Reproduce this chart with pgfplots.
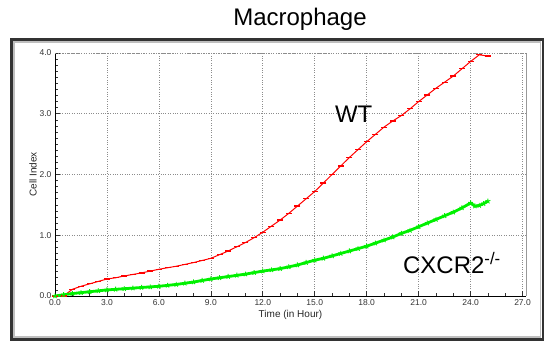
\documentclass[border=0pt]{standalone}
\usepackage{pgfplots}
\pgfplotsset{compat=1.18}
\usepackage{fontspec}
\setmainfont{Liberation Sans}
\definecolor{wtred}{RGB}{255,0,0}
\definecolor{kogreen}{RGB}{0,240,0}
\begin{document}
\begin{tikzpicture}
\path[use as bounding box] (0pt,0pt) rectangle (547pt,343pt);
\draw[black!80, line width=2.2pt] (11.5pt,3.5pt) rectangle (543pt,303.5pt);
\draw[black!25, line width=1.5pt] (14pt,6pt) rectangle (540.5pt,301pt);
\node[font=\fontsize{24}{28}\selectfont] at (300pt,324pt) {Macrophage};
\begin{axis}[
  at={(55pt,47pt)}, anchor=south west,
  width=471pt, height=243pt, scale only axis,
  xmin=0, xmax=27.2, ymin=0, ymax=4.0,
  axis x line=bottom, axis y line=left,
  axis line style={-, black, line width=0.8pt},
  xtick={0,3,...,27}, ytick={0,1,2,3,4},
  minor x tick num=2, minor y tick num=9,
  tick align=inside,
  major tick length=5pt, minor tick length=3pt,
  tick style={black!80, line width=0.6pt},
  grid=major,
  major grid style={black!45, dotted, line width=0.6pt},
  /pgf/number format/assume math mode=true,
  /pgf/number format/fixed, /pgf/number format/fixed zerofill, /pgf/number format/precision=1,
  ticklabel style={font=\fontsize{8.5}{9}\selectfont, text=black!80},
  xlabel={Time (in Hour)}, ylabel={Cell Index},
  label style={font=\fontsize{10}{12}\selectfont, text=black!85},
  xlabel style={yshift=2pt},
  ylabel style={yshift=-4pt},
  clip=false,
]
\draw[black!40, line width=0.6pt] (rel axis cs:1,0) -- (rel axis cs:1,1);
\draw[black!45, dotted, line width=0.6pt] (rel axis cs:0,1) -- (rel axis cs:1,1);
\addplot[color=wtred, line width=1pt, mark=-, mark size=3pt, mark options={line width=1.2pt}] coordinates {
(0,0.0) (0.5,0.0) (1.0,0.11) (1.5,0.16) (2.0,0.2) (2.5,0.24) (3.0,0.28) (3.5,0.3)
(4.0,0.33) (4.5,0.355) (5,0.38) (5.5,0.41) (6,0.44) (6.5,0.465) (7,0.49) (7.5,0.52)
(8,0.55) (8.5,0.585) (9,0.62) (9.5,0.68) (10,0.74) (10.5,0.81) (11,0.88) (11.5,0.96)
(12,1.05) (12.5,1.15) (13,1.25) (13.5,1.36) (14,1.48) (14.5,1.6) (15,1.72) (15.5,1.86)
(16,2.0) (16.5,2.14) (17,2.28) (17.5,2.41) (18,2.54) (18.5,2.66) (19,2.78) (19.5,2.88)
(20,2.97) (20.5,3.08) (21,3.2) (21.5,3.31) (22,3.42) (22.5,3.52) (23,3.62) (23.5,3.74)
(24,3.86) (24.5,3.97) (25,3.95)
};
\addplot[color=kogreen, line width=2.8pt, mark=star, mark size=2.6pt, mark options={line width=0.9pt}] coordinates {
(0,0) (0.5,0.02) (1,0.04) (1.5,0.055) (2,0.07) (2.5,0.085) (3,0.10) (3.5,0.11)
(4,0.12) (4.5,0.13) (5,0.14) (5.5,0.15) (6,0.16) (6.5,0.175) (7,0.19) (7.5,0.21)
(8,0.23) (8.5,0.255) (9,0.28) (9.5,0.30) (10,0.32) (10.5,0.34) (11,0.36) (11.5,0.385)
(12,0.41) (12.5,0.43) (13,0.45) (13.5,0.48) (14,0.51) (14.5,0.55) (15,0.59) (15.5,0.62)
(16,0.66) (16.5,0.70) (17,0.74) (17.5,0.78) (18,0.82) (18.5,0.87) (19,0.92) (19.5,0.97)
(20,1.03) (20.5,1.08) (21,1.14) (21.5,1.20) (22,1.26) (22.5,1.32) (23,1.38) (23.5,1.45)
(24,1.53) (24.25,1.48) (24.5,1.49) (24.75,1.52) (25,1.56)
};
\node[font=\fontsize{24}{28}\selectfont, anchor=center] at (axis cs:17.25,3.0) {WT};
\node[font=\fontsize{24}{28}\selectfont, anchor=west] at (axis cs:19.9,0.55) {CXCR2\textsuperscript{-/-}};
\end{axis}
\end{tikzpicture}
\end{document}
